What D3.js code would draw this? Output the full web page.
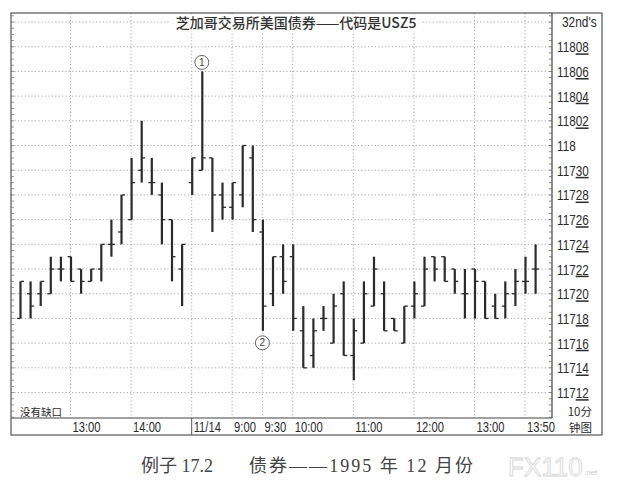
<!DOCTYPE html>
<html>
<head>
<meta charset="utf-8">
<script src="https://cdn.jsdelivr.net/npm/d3@7"></script>
<style>
  body { margin: 0; background: #fff; }
  svg { display: block; }
</style>
</head>
<body>
<svg id="chart" width="621" height="486"></svg>
<script>
// bond price codes: "11721" = 117 21/32, "11800" = 118
const times = [
  "12:10","12:20","12:30","12:40","12:50","13:00","13:10","13:20","13:30","13:40","13:50",
  "14:00","14:10","14:20","14:30","14:40","14:50",
  "8:20","8:30","8:40","8:50","9:00","9:10","9:20","9:30","9:40","9:50",
  "10:00","10:10","10:20","10:30","10:40","10:50","11:00","11:10","11:20","11:30","11:40","11:50",
  "12:00","12:10","12:20","12:30","12:40","12:50","13:00","13:10","13:20","13:30","13:40","13:50","14:00"
];
const high = [
  11721,11721,11721,11723,11723,11723,11722,11722,11724,11726,11728,11731,11802,11731,11729,11726,11724,
  11731,11806,11731,11729,11729,11800,11800,11726,11723,11724,
  11724,11719,11718,11719,11720,11721,11718,11721,11723,11721,11718,11719,
  11721,11723,11723,11723,11722,11722,11722,11721,11720,11721,11722,11723,11724
];
const low = [
  11718,11718,11719,11720,11721,11721,11720,11721,11721,11723,11724,11726,11729,11728,11724,11721,11719,
  11728,11730,11725,11726,11726,11727,11725,11717,11719,11720,
  11717,11714,11714,11717,11716,11715,11713,11716,11719,11717,11717,11716,
  11718,11719,11721,11721,11720,11718,11718,11718,11718,11718,11719,11720,11720
];
const open = [
  11718,11720,11720,11720,11722,11723,11722,11721,11722,11724,11725,11726,11730,11729,11728,11726,11722,
  11729,11730,11731,11728,11727,11728,11731,11725,11720,11723,
  11723,11717,11715,11718,11716,11720,11715,11716,11719,11720,11718,11716,
  11719,11719,11723,11723,11722,11720,11722,11721,11719,11719,11720,11721,11722
];
const close = [
  11721,11719,11721,11722,11722,11721,11721,11722,11724,11724,11728,11729,11731,11729,11726,11723,11724,
  11731,11731,11728,11727,11729,11800,11726,11719,11723,11721,
  11718,11714,11717,11718,11719,11715,11717,11720,11722,11717,11717,11719,
  11720,11722,11722,11721,11721,11720,11721,11718,11718,11720,11721,11721,11722
];
const priceLabels = [11808,11806,11804,11802,11800,11730,11728,11726,11724,11722,11720,11718,11716,11714,11712];
const gridPrices = [11810].concat(priceLabels);
const timeTicks = [
  { i: 5, label: "13:00" }, { i: 11, label: "14:00" }, { i: 17, label: "11/14" },
  { i: 21, label: "9:00" }, { i: 24, label: "9:30" }, { i: 27, label: "10:00" },
  { i: 33, label: "11:00" }, { i: 39, label: "12:00" }, { i: 45, label: "13:00" },
  { i: 50, label: "13:50" }
];
const dayBreak = 17;
const notes = [{ i: 18, label: "1", above: true }, { i: 24, label: "2", above: false }];

const to32 = c => Math.floor(c / 100) * 32 + (c % 100);

const svg = d3.select("#chart");
const pLeft = 11, pRight = 552, pTop = 13, pBottom = 418;
const outerRight = 602, outerBottom = 435;
const ink = "#2b2b2b";

const x = d3.scaleLinear().domain([0, times.length - 1]).range([20.5, 535.6]);
const y = d3.scaleLinear().domain([3753.94, 3786.73]).range([pBottom, pTop]);

// gridlines
svg.append("g").selectAll("line").data(gridPrices).enter().append("line")
  .attr("x1", pLeft).attr("x2", pRight)
  .attr("y1", d => y(to32(d))).attr("y2", d => y(to32(d)))
  .attr("stroke", "#a8a8a8").attr("stroke-width", 1).attr("stroke-dasharray", "1.2,2.2");
svg.append("g").selectAll("line").data(timeTicks).enter().append("line")
  .attr("x1", d => x(d.i) - 0.5).attr("x2", d => x(d.i) - 0.5)
  .attr("y1", pTop).attr("y2", pBottom)
  .attr("stroke", "#a8a8a8").attr("stroke-width", 1).attr("stroke-dasharray", "1.2,2.2");

// frame
svg.append("rect").attr("x", pLeft).attr("y", pTop)
  .attr("width", outerRight - pLeft).attr("height", outerBottom - pTop)
  .attr("fill", "none").attr("stroke", "#555").attr("stroke-width", 1.2);
svg.append("line").attr("x1", pLeft).attr("x2", pRight).attr("y1", pBottom).attr("y2", pBottom)
  .attr("stroke", "#444").attr("stroke-width", 1.2);
svg.append("line").attr("x1", pRight).attr("x2", pRight).attr("y1", pTop).attr("y2", pBottom)
  .attr("stroke", "#444").attr("stroke-width", 1.2);
svg.append("line").attr("x1", x(dayBreak) - 0.5).attr("x2", x(dayBreak) - 0.5)
  .attr("y1", pBottom).attr("y2", outerBottom).attr("stroke", "#555").attr("stroke-width", 1);

// minor ticks on both price edges
const minor = d3.range(3754, 3787, 0.5);
svg.append("g").selectAll("line").data(minor).enter().append("line")
  .attr("x1", pRight - 3).attr("x2", pRight).attr("y1", d => y(d)).attr("y2", d => y(d))
  .attr("stroke", "#666").attr("stroke-width", 0.8);
svg.append("g").selectAll("line").data(minor).enter().append("line")
  .attr("x1", pLeft).attr("x2", pLeft + 3).attr("y1", d => y(d)).attr("y2", d => y(d))
  .attr("stroke", "#777").attr("stroke-width", 0.8);

// title
svg.append("rect").attr("x", 170).attr("y", 15).attr("width", 252).attr("height", 16).attr("fill", "#fff");
svg.append("text").attr("x", 296).attr("y", 28).attr("text-anchor", "middle")
  .attr("font-family", "'Noto Sans CJK SC', sans-serif").attr("font-size", 14)
  .attr("font-weight", 500).attr("fill", "#333").text("芝加哥交易所美国债券——代码是USZ5");

// right axis labels
const yl = svg.append("g");
priceLabels.forEach(p => {
  const s = String(p);
  const t = yl.append("text")
    .attr("transform", `translate(557,${y(to32(p)) + 5.5}) scale(0.78,1)`)
    .attr("font-family", "'Liberation Sans', Arial, sans-serif").attr("font-size", 15)
    .attr("fill", ink);
  if (p % 100 === 0) {
    t.text(s.slice(0, 3));
  } else {
    t.append("tspan").text(s.slice(0, 3));
    t.append("tspan").style("text-decoration", "underline").text(s.slice(3));
  }
});
svg.append("text").attr("transform", "translate(562,27) scale(0.85,1)")
  .attr("font-family", "'Liberation Sans', Arial, sans-serif").attr("font-size", 14)
  .attr("fill", ink).text("32nd's");

// time labels
svg.append("g").selectAll("text").data(timeTicks).enter().append("text")
  .attr("transform", d => `translate(${x(d.i) + 1.5},${432}) scale(0.8,1)`)
  .attr("font-family", "'Liberation Sans', Arial, sans-serif").attr("font-size", 14)
  .attr("fill", ink).text(d => d.label);

svg.append("text").attr("x", 592).attr("y", 416).attr("text-anchor", "end")
  .attr("font-family", "'Noto Sans CJK SC', sans-serif").attr("font-size", 11.5)
  .attr("fill", ink).text("10分");
svg.append("text").attr("x", 592).attr("y", 432).attr("text-anchor", "end")
  .attr("font-family", "'Noto Sans CJK SC', sans-serif").attr("font-size", 11.5)
  .attr("fill", ink).text("钟图");
svg.append("text").attr("x", 20).attr("y", 416)
  .attr("font-family", "'Noto Sans CJK SC', sans-serif").attr("font-size", 10.5)
  .attr("fill", ink).text("没有缺口");

// OHLC bars
const bars = svg.append("g").selectAll("g").data(times).enter().append("g");
bars.append("line")
  .attr("x1", (d, i) => x(i)).attr("x2", (d, i) => x(i))
  .attr("y1", (d, i) => y(to32(high[i]))).attr("y2", (d, i) => y(to32(low[i])))
  .attr("stroke", ink).attr("stroke-width", 2.2);
bars.append("line")
  .attr("x1", (d, i) => x(i) - 3.5).attr("x2", (d, i) => x(i))
  .attr("y1", (d, i) => y(to32(open[i]))).attr("y2", (d, i) => y(to32(open[i])))
  .attr("stroke", ink).attr("stroke-width", 1.3);
bars.append("line")
  .attr("x1", (d, i) => x(i)).attr("x2", (d, i) => x(i) + 3.5)
  .attr("y1", (d, i) => y(to32(close[i]))).attr("y2", (d, i) => y(to32(close[i])))
  .attr("stroke", ink).attr("stroke-width", 1.3);

// circled notes
notes.forEach(n => {
  const cy = n.above ? y(to32(high[n.i])) - 9 : y(to32(low[n.i])) + 12;
  const g = svg.append("g");
  g.append("circle").attr("cx", x(n.i) - 0.5).attr("cy", cy).attr("r", 7)
    .attr("fill", "#fff").attr("stroke", "#666").attr("stroke-width", 1);
  g.append("text").attr("x", x(n.i) - 0.5).attr("y", cy + 3.5).attr("text-anchor", "middle")
    .attr("font-family", "'Liberation Sans', Arial, sans-serif").attr("font-size", 10)
    .attr("fill", "#444").text(n.label);
});

// caption and watermark
svg.append("text").attr("x", 141).attr("y", 472)
  .attr("font-family", "'Liberation Serif', 'Noto Sans CJK SC', serif").attr("font-size", 18)
  .attr("fill", "#444").text("例子 17.2");
svg.append("text").attr("x", 249).attr("y", 472)
  .attr("font-family", "'Liberation Serif', 'Noto Sans CJK SC', serif").attr("font-size", 18)
  .attr("fill", "#444").attr("textLength", 224).attr("lengthAdjust", "spacing")
  .text("债券——1995 年 12 月份");
svg.append("text").attr("x", 508).attr("y", 476)
  .attr("font-family", "'Liberation Sans', Arial, sans-serif").attr("font-size", 26)
  .attr("fill", "#fff").attr("stroke", "#d4d4d4").attr("stroke-width", 0.8).text("FX110");
svg.append("text").attr("x", 584).attr("y", 475)
  .attr("font-family", "'Liberation Sans', Arial, sans-serif").attr("font-size", 8)
  .attr("fill", "#ccc").text(".net");
</script>
</body>
</html>
